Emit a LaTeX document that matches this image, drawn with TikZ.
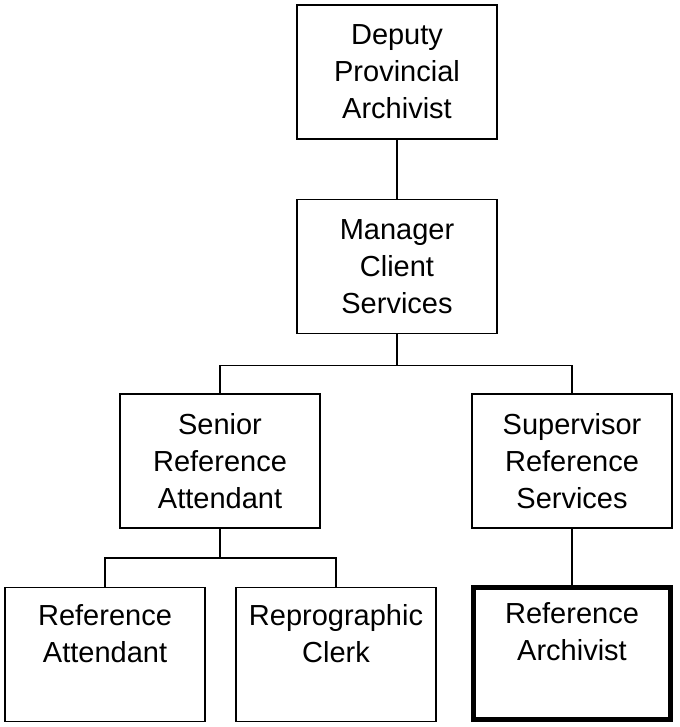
\documentclass[tikz,border=0pt]{standalone}
\usepackage{fontspec}
\setmainfont{Liberation Sans}
\usepackage{tikz}
\usetikzlibrary{positioning}
\tikzset{main node/.style={rectangle,draw,line width=1.5pt,minimum width=200pt,minimum height=134pt,inner sep=0pt,align=center,font=\fontsize{29}{37}\selectfont},
         lead node/.style={main node,line width=5pt,minimum width=197pt,minimum height=132pt},
            }

\begin{document}
\begin{tikzpicture}
    \useasboundingbox (0,0) rectangle (679pt,-727pt);

    \node[main node] (1) at (397pt,-72pt) {Deputy\\Provincial\\Archivist};
    \node[main node] (2) [below = 59pt of 1] {Manager\\Client\\Services};
    \node[main node] (3) [below = 59pt of 2, xshift=-177pt] {Senior\\Reference\\Attendant};
    \node[main node] (4) [below = 59pt of 2, xshift=175pt] {Supervisor\\Reference\\Services};
    \node[main node] (5) [below = 58pt of 3, xshift=-115pt] {Reference\\Attendant\\[6pt]\mbox{}};
    \node[main node] (6) [below = 58pt of 3, xshift=116pt] {Reprographic\\Clerk\\[6pt]\mbox{}};
    \node[lead node] (7) [below = 56pt of 4] {Reference\\Archivist\\[6pt]\mbox{}};

    \coordinate [below = 31pt of 2] (bus2);
    \coordinate [below = 29pt of 3] (bus3);

    \path[draw,line width=1.5pt]
    (1) -- (2)
    (2) -- (bus2)
    (bus2) -| (3.north)
    (bus2) -| (4.north)
    (3) -- (bus3)
    (bus3) -| (5.north)
    (bus3) -| (6.north)
    (4) -- (7);

\end{tikzpicture}
\end{document}
